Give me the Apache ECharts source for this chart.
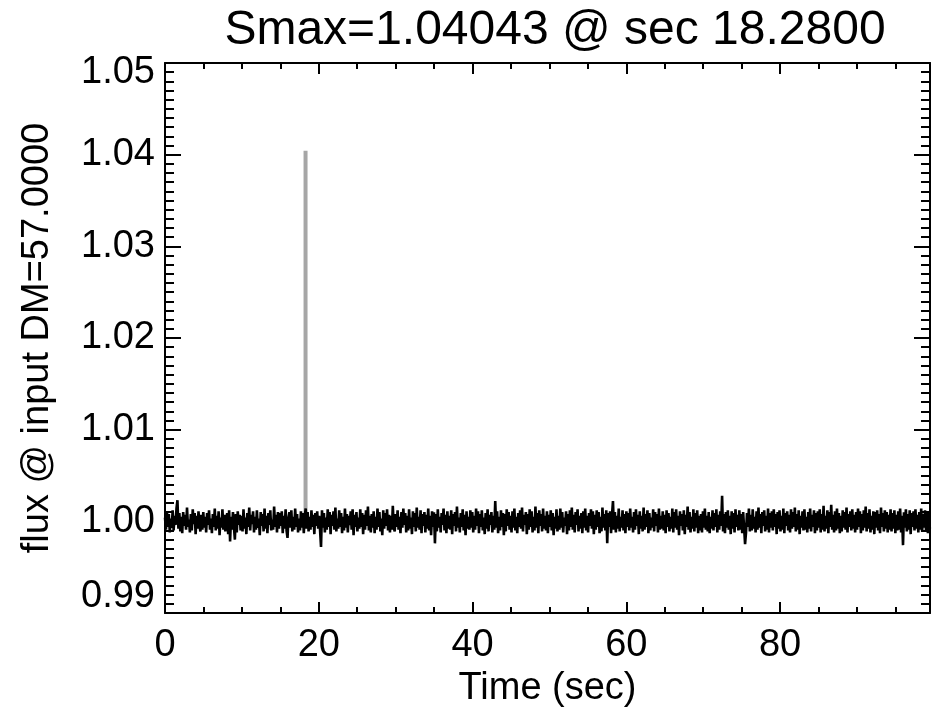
<!DOCTYPE html>
<html>
<head>
<meta charset="utf-8">
<script src="https://cdn.jsdelivr.net/npm/echarts@6/dist/echarts.min.js"></script>
<style>
html,body{margin:0;padding:0;background:#fff;}
#chart{width:935px;height:716px;}
</style>
</head>
<body>
<div id="chart"></div>
<script>
// Title / labels
var titleText = 'Smax=1.04043 @ sec 18.2800';
var xName = 'Time (sec)';
var yName = 'flux @ input DM=57.0000';
var xTicks = [0, 20, 40, 60, 80];
var yTicks = ['0.99', '1.00', '1.01', '1.02', '1.03', '1.04', '1.05'];

// Sample interval (sec) and flux deviations from 1.0 in units of 1e-4
var sampleDt = 0.1245;
var fluxDev = [
 4,-9,11,-6,8,-12,3,-7,12,-10,6,-4,14,23,-8,9,-11,5,-13,10,-5,7,-9,15,-6,2,-12,8,-10,13,-3,9,-14,6,-8,11,-5,-11,7,-9,
 10,-7,5,-12,9,-4,12,-9,3,-13,8,-6,14,-10,6,-8,11,-15,4,-7,13,-9,7,-11,2,9,-14,12,-22,5,-9,10,-6,-20,8,-12,11,-4,7,-10,
 6,-11,13,-8,4,-14,9,-6,15,-10,7,-3,11,-12,5,-9,12,-7,3,-15,10,-5,8,-11,14,-8,6,-13,9,-4,12,-10,2,-9,16,-6,7,-12,10,-8,
 9,-5,11,-13,6,-8,13,-10,-18,4,10,-7,12,-11,5,-9,14,-6,8,-12,3,-10,11,-7,9,-13,6,14,-8,10,-11,5,-9,12,-6,7,-14,9,-5,11,
 -8,6,-10,-28,12,-7,9,-12,4,-9,13,-6,10,-14,7,-5,11,-9,15,-11,3,-8,12,-6,9,-13,5,-10,14,-7,8,-12,6,-4,11,-9,13,-15,7,-6,
 10,-11,4,-8,13,-6,9,-14,7,-9,12,-5,16,-10,6,-12,8,-7,11,-13,5,-9,14,-6,10,-11,3,-15,12,-8,9,-5,13,-10,7,-12,6,-9,17,-7,
 -11,8,-6,12,-9,5,-13,10,-7,14,-4,9,-12,6,-10,13,-8,4,-14,11,-6,9,-11,15,-7,5,-9,12,-13,8,-5,10,-12,7,-8,14,-10,6,-15,11,
 -6,10,-24,8,-11,13,-7,5,-12,9,-4,14,-10,7,-13,11,-8,6,-9,12,-14,8,-5,10,-11,16,-7,4,-12,9,-6,13,-10,7,-15,11,-8,5,-9,12,
 -7,10,-12,6,-9,14,-5,11,-13,8,-6,12,-10,4,-14,9,-8,13,-11,7,-4,10,-12,6,-9,22,-7,11,-13,5,-10,12,-6,9,-15,8,-11,13,-5,10,
 -9,6,-12,11,-7,14,-10,5,-13,9,-6,12,-8,15,-11,7,-4,10,-14,8,-9,13,-6,11,-12,5,-10,16,-7,9,-13,12,-5,8,-11,14,-8,6,-10,11,
 -13,7,-6,12,-10,9,-15,5,-8,13,-11,6,-9,14,-7,10,-12,4,-5,11,-14,8,-10,12,-6,15,-9,7,-12,10,-4,13,-11,6,-8,9,-13,11,-7,14,
 -10,6,-12,9,-5,13,-8,11,-14,7,-9,12,-6,10,-13,5,-11,15,-7,8,-10,12,-24,9,-6,11,-13,7,22,-9,10,-12,6,-8,14,-11,5,-7,12,-10,
 8,-13,11,-6,9,-10,14,-7,5,-12,10,-9,13,-5,7,-14,11,-8,6,-11,15,-9,8,-6,12,-13,9,-10,4,-7,13,-11,10,-5,8,-12,14,-9,6,-8,
 11,-10,7,-13,12,-6,9,-11,5,-8,14,-12,10,-7,13,-9,6,-15,11,-5,8,-10,12,-14,7,-6,16,-9,10,-12,5,-8,13,-11,9,-7,12,-13,6,-10,
 8,-12,11,-7,14,-9,6,-11,10,-13,5,-8,12,-10,9,-6,13,-12,7,-9,11,-5,28,-11,8,-13,10,-7,12,-9,6,-14,11,-8,9,-12,13,-6,7,-10,
 12,-9,8,-13,10,-7,-25,-12,9,-6,14,-11,7,-10,13,-8,5,-12,11,-9,15,-7,8,-13,10,-5,12,-11,6,-9,14,-12,9,-7,11,-10,13,-6,8,-14,
 10,-8,12,-11,6,-9,14,-13,9,-5,11,-10,7,-12,13,-8,10,-6,15,-11,8,-9,12,-14,6,-7,11,-10,13,-9,5,-12,10,-8,14,-11,7,-6,12,-13,
 9,-10,11,-7,13,-12,8,-9,17,-11,6,-8,12,-13,10,-6,18,-9,7,-12,11,-10,14,-8,9,-13,6,-11,12,-7,10,-9,15,-12,8,-6,11,-10,13,-8,
 7,-12,10,-9,14,-6,11,-13,8,-10,12,-7,16,-11,9,-8,13,-12,6,-9,11,-14,10,-7,12,-10,8,-13,15,-6,9,-11,12,-8,10,-12,7,-9,13,-11,
 9,-8,12,-13,7,-10,11,-9,14,-12,6,-26,10,-7,13,-11,8,-9,12,-14,9,-6,11,-10,13,-8,7,-12,10,-9,14,-11,8,-7,12,-10,9,-13,11,-8
];
var baseFlux = 1.0;
var devScale = 1e-4;

// Peak (Smax) event
var peakTime = [18.28, 18.28];
var peakFlux = [1.0005, 1.04043];

var xMin = 0, xMax = 99.5, yMin = 0.99, yMax = 1.05;

var noiseData = fluxDev.map(function (v, i) { return [i * sampleDt, baseFlux + v * devScale]; });
var peakData = peakTime.map(function (t, i) { return [t, peakFlux[i]]; });

var FONT = '"Liberation Sans", Arial, Helvetica, sans-serif';

function yLabelFmt(v) {
  var s = v.toFixed(2);
  if (yTicks.indexOf(s) < 0) return '';
  if (Math.abs(v - yMax) < 1e-9) return '{top|' + s + '}';
  if (Math.abs(v - yMin) < 1e-9) return '{bot|' + s + '}';
  return s;
}

var axisLineStyle = { color: '#000', width: 2 };

var chart = echarts.init(document.getElementById('chart'), null, { renderer: 'canvas' });
chart.setOption({
  animation: false,
  backgroundColor: '#fff',
  title: {
    text: titleText,
    left: 550,
    top: 2,
    textAlign: 'center',
    textStyle: { fontFamily: FONT, fontSize: 48, fontWeight: 'normal', color: '#000' }
  },
  grid: { left: 165, right: 5, top: 63, bottom: 103, containLabel: false },
  xAxis: [{
    type: 'value', min: xMin, max: xMax, interval: 20, position: 'bottom',
    name: xName, nameLocation: 'middle', nameGap: 54,
    nameTextStyle: { fontFamily: FONT, fontSize: 38, color: '#000' },
    axisLine: { show: true, onZero: false, lineStyle: axisLineStyle },
    axisTick: { show: true, inside: true, length: 11, lineStyle: { color: '#000', width: 2 } },
    minorTick: { show: true, splitNumber: 4, length: 6, lineStyle: { color: '#000', width: 2 } },
    axisLabel: {
      fontFamily: FONT, fontSize: 38, color: '#000', margin: 14, showMaxLabel: false,
      formatter: function (v) { return xTicks.indexOf(Math.round(v)) >= 0 && Math.abs(v - Math.round(v)) < 1e-6 ? String(Math.round(v)) : ''; }
    },
    splitLine: { show: false }
  }, {
    type: 'value', min: xMin, max: xMax, interval: 20, position: 'top',
    axisLine: { show: true, onZero: false, lineStyle: axisLineStyle },
    axisTick: { show: true, inside: true, length: 11, lineStyle: { color: '#000', width: 2 } },
    minorTick: { show: true, splitNumber: 4, length: 6, lineStyle: { color: '#000', width: 2 } },
    axisLabel: { show: false },
    splitLine: { show: false }
  }],
  yAxis: [{
    type: 'value', min: yMin, max: yMax, interval: 0.01, position: 'left',
    name: yName, nameLocation: 'middle', nameGap: 108, nameRotate: 90,
    nameTextStyle: { fontFamily: FONT, fontSize: 38, color: '#000' },
    axisLine: { show: true, onZero: false, lineStyle: axisLineStyle },
    axisTick: { show: true, inside: true, length: 16, lineStyle: { color: '#000', width: 2 } },
    minorTick: { show: true, splitNumber: 10, length: 9, lineStyle: { color: '#000', width: 2 } },
    axisLabel: {
      fontFamily: FONT, fontSize: 38, color: '#000', margin: 10,
      formatter: yLabelFmt,
      rich: {
        top: { fontFamily: FONT, fontSize: 38, color: '#000', padding: [20, 0, 0, 0] },
        bot: { fontFamily: FONT, fontSize: 38, color: '#000', padding: [0, 0, 32, 0] }
      }
    },
    splitLine: { show: false }
  }, {
    type: 'value', min: yMin, max: yMax, interval: 0.01, position: 'right',
    axisLine: { show: true, onZero: false, lineStyle: axisLineStyle },
    axisTick: { show: true, inside: true, length: 16, lineStyle: { color: '#000', width: 2 } },
    minorTick: { show: true, splitNumber: 10, length: 9, lineStyle: { color: '#000', width: 2 } },
    axisLabel: { show: false },
    splitLine: { show: false }
  }],
  series: [{
    name: 'peak', type: 'line', data: peakData, xAxisIndex: 0, yAxisIndex: 0,
    showSymbol: false, symbol: 'none', z: 1,
    lineStyle: { color: '#a6a6a6', width: 4 }
  }, {
    name: 'flux', type: 'line', data: noiseData, xAxisIndex: 0, yAxisIndex: 0,
    showSymbol: false, symbol: 'none', sampling: null, z: 2, clip: true,
    lineStyle: { color: '#000', width: 2.6 }
  }]
});
</script>
</body>
</html>
